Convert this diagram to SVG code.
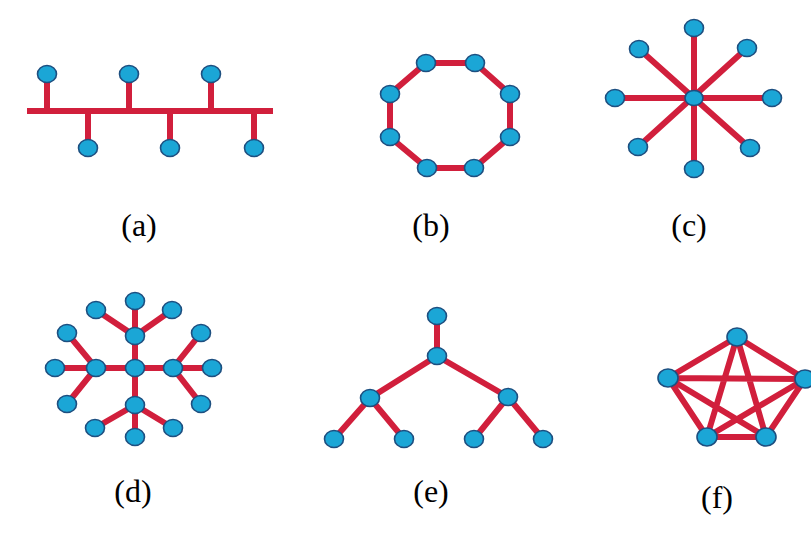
<svg xmlns="http://www.w3.org/2000/svg" width="811" height="535" viewBox="0 0 811 535">
<style>
.e{stroke:#d11f3c;stroke-width:6;stroke-linecap:butt;fill:none}
.n{fill:#1ba6d6;stroke:#1d4f80;stroke-width:1.6}
.l{font-family:"Liberation Serif","Times New Roman",serif;font-size:32px;fill:#000;text-anchor:middle}
</style>
<rect width="811" height="535" fill="#fff"/>
<g id="connectors">
<path class="e" d="M27 111H273M47 74V111M129 74V111M211 74V111M88 111V148M170 111V148M254 111V148"/>
<path class="e" d="M426 63L475 63L510 94L510 137L474 168L427 168L390 137L390 94Z"/>
<path class="e" d="M694 28L694 169M615 98L772 98M639 49L750 148M747 48L638 147"/>
<path class="e" d="M135 301V437M55 368H212M96 310L135 336L172 310M67 333L96 368L67 404M201 333L173 368L201 404M95 428L135 405L173 428"/>
<path class="e" d="M437 316V356M370 398L437 356L508 397M334 439L370 398L404 439M474 439L508 397L543 439"/>
<path class="e" d="M737 337L668 378L707 437L766 437L805 379ZM737 337L707 437M737 337L766 437M668 378L805 379M668 378L766 437M805 379L707 437"/>
</g>
<g id="a">
<ellipse class="n" cx="47" cy="74" rx="9.5" ry="8.5"/>
<ellipse class="n" cx="129" cy="74" rx="9.5" ry="8.5"/>
<ellipse class="n" cx="211" cy="74" rx="9.5" ry="8.5"/>
<ellipse class="n" cx="88" cy="148" rx="9.5" ry="8.5"/>
<ellipse class="n" cx="170" cy="148" rx="9.5" ry="8.5"/>
<ellipse class="n" cx="254" cy="148" rx="9.5" ry="8.5"/>
<text class="l" x="139" y="236">(a)</text>
</g>
<g id="b">
<ellipse class="n" cx="426" cy="63" rx="9.5" ry="8.5"/>
<ellipse class="n" cx="475" cy="63" rx="9.5" ry="8.5"/>
<ellipse class="n" cx="510" cy="94" rx="9.5" ry="8.5"/>
<ellipse class="n" cx="510" cy="137" rx="9.5" ry="8.5"/>
<ellipse class="n" cx="474" cy="168" rx="9.5" ry="8.5"/>
<ellipse class="n" cx="427" cy="168" rx="9.5" ry="8.5"/>
<ellipse class="n" cx="390" cy="137" rx="9.5" ry="8.5"/>
<ellipse class="n" cx="390" cy="94" rx="9.5" ry="8.5"/>
<text class="l" x="431" y="236">(b)</text>
</g>
<g id="c">
<ellipse class="n" cx="694" cy="98" rx="9" ry="7.5"/>
<ellipse class="n" cx="694" cy="28" rx="9.5" ry="8.5"/>
<ellipse class="n" cx="694" cy="169" rx="9.5" ry="8.5"/>
<ellipse class="n" cx="615" cy="98" rx="9.5" ry="8.5"/>
<ellipse class="n" cx="772" cy="98" rx="9.5" ry="8.5"/>
<ellipse class="n" cx="639" cy="49" rx="9.5" ry="8.5"/>
<ellipse class="n" cx="747" cy="48" rx="9.5" ry="8.5"/>
<ellipse class="n" cx="638" cy="147" rx="9.5" ry="8.5"/>
<ellipse class="n" cx="750" cy="148" rx="9.5" ry="8.5"/>
<text class="l" x="689" y="236">(c)</text>
</g>
<g id="d">
<ellipse class="n" cx="135" cy="301" rx="9.5" ry="8.5"/>
<ellipse class="n" cx="96" cy="310" rx="9.5" ry="8.5"/>
<ellipse class="n" cx="172" cy="310" rx="9.5" ry="8.5"/>
<ellipse class="n" cx="135" cy="336" rx="9.5" ry="8.5"/>
<ellipse class="n" cx="67" cy="333" rx="9.5" ry="8.5"/>
<ellipse class="n" cx="201" cy="333" rx="9.5" ry="8.5"/>
<ellipse class="n" cx="55" cy="368" rx="9.5" ry="8.5"/>
<ellipse class="n" cx="96" cy="368" rx="9.5" ry="8.5"/>
<ellipse class="n" cx="135" cy="368" rx="9.5" ry="8.5"/>
<ellipse class="n" cx="173" cy="368" rx="9.5" ry="8.5"/>
<ellipse class="n" cx="212" cy="368" rx="9.5" ry="8.5"/>
<ellipse class="n" cx="67" cy="404" rx="9.5" ry="8.5"/>
<ellipse class="n" cx="201" cy="404" rx="9.5" ry="8.5"/>
<ellipse class="n" cx="135" cy="405" rx="9.5" ry="8.5"/>
<ellipse class="n" cx="95" cy="428" rx="9.5" ry="8.5"/>
<ellipse class="n" cx="173" cy="428" rx="9.5" ry="8.5"/>
<ellipse class="n" cx="135" cy="437" rx="9.5" ry="8.5"/>
<text class="l" x="133" y="502">(d)</text>
</g>
<g id="e">
<ellipse class="n" cx="437" cy="316" rx="9.5" ry="8.5"/>
<ellipse class="n" cx="437" cy="356" rx="9.5" ry="8.5"/>
<ellipse class="n" cx="370" cy="398" rx="9.5" ry="8.5"/>
<ellipse class="n" cx="508" cy="397" rx="9.5" ry="8.5"/>
<ellipse class="n" cx="334" cy="439" rx="9.5" ry="8.5"/>
<ellipse class="n" cx="404" cy="439" rx="9.5" ry="8.5"/>
<ellipse class="n" cx="474" cy="439" rx="9.5" ry="8.5"/>
<ellipse class="n" cx="543" cy="439" rx="9.5" ry="8.5"/>
<text class="l" x="431" y="502">(e)</text>
</g>
<g id="f">
<ellipse class="n" cx="737" cy="337" rx="10" ry="9"/>
<ellipse class="n" cx="668" cy="378" rx="10" ry="9"/>
<ellipse class="n" cx="805" cy="379" rx="10" ry="9"/>
<ellipse class="n" cx="707" cy="437" rx="10" ry="9"/>
<ellipse class="n" cx="766" cy="437" rx="10" ry="9"/>
<text class="l" x="717" y="508">(f)</text>
</g>
</svg>
